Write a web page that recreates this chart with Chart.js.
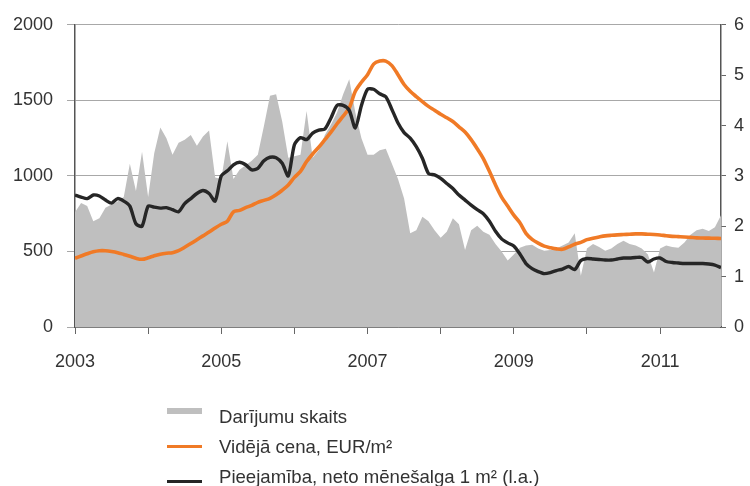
<!DOCTYPE html>
<html>
<head>
<meta charset="utf-8">
<script src="https://cdn.jsdelivr.net/npm/chart.js@4/dist/chart.umd.min.js"></script>
<style>
  html, body { margin: 0; padding: 0; background: #fff; }
  #wrap { position: relative; width: 750px; height: 486px; overflow: hidden; }
  #c { position: absolute; left: 0; top: 0; }
  .lg { position: absolute; left: 0; top: 0; width: 750px; height: 486px; font-family: "Liberation Sans", Arial, sans-serif; font-size: 18.6px; color: #333; }
  .sw { position: absolute; left: 167px; width: 35px; }
  .tx { position: absolute; left: 219px; line-height: 20px; white-space: nowrap; }
</style>
</head>
<body>
<div id="wrap">
  <canvas id="c" width="750" height="486"></canvas>
  <div class="lg" id="legend"></div>
</div>
<script>
// Months: Jan 2003 .. Nov 2011
const startYear = 2003;
const months = [];
for (let i = 0; i < 107; i++) {
  months.push((startYear + Math.floor(i / 12)) + '-' + String(i % 12 + 1).padStart(2, '0'));
}

const seriesNames = ['Darījumu skaits', 'Vidējā cena, EUR/m²', 'Pieejamība, neto mēnešalga 1 m² (l.a.)'];

// Number of transactions (left axis)
const transactions = [
  760, 820, 800, 700, 720, 790, 810, 830, 860, 1080, 900, 1160,
  860, 1150, 1320, 1250, 1140, 1220, 1240, 1270, 1200, 1260, 1300, 990,
  980, 1230, 980, 1040, 1070, 1100, 1140, 1330, 1530, 1540, 1360, 1120,
  1130, 1140, 1430, 1120, 1170, 1270, 1340, 1420, 1540, 1640, 1420, 1250,
  1140, 1140, 1170, 1180, 1080, 980, 850, 620, 640, 730, 700, 640,
  590, 630, 720, 680, 510, 640, 670, 630, 610, 550, 500, 440,
  480, 525, 540, 545, 520, 505, 510, 520, 540, 560, 620, 340,
  520, 550, 530, 505, 520, 550, 570, 550, 540, 520, 480, 360,
  520, 540, 530, 525, 560, 610, 640, 650, 635, 660, 740
];

// Average price, EUR/m2 (left axis)
const avgPrice = [
  455, 470, 485, 498, 505, 505, 500, 492, 480, 468, 455, 448,
  458, 472, 482, 488, 492, 505, 528, 552, 578, 603, 628, 655,
  680, 700, 762, 772, 790, 805, 825, 838, 852, 875, 905, 940,
  990, 1030, 1095, 1145, 1190, 1240, 1290, 1345, 1395, 1450, 1560, 1620,
  1670, 1740, 1760, 1760, 1730, 1670, 1605, 1560, 1525, 1492, 1460, 1435,
  1408, 1385, 1360, 1325, 1290, 1240, 1180, 1115, 1030, 940, 860, 800,
  740, 690, 620, 580, 555, 535, 525, 517, 514, 530, 548, 560,
  578, 588, 596, 603, 607, 610, 612, 614, 616, 616, 614, 612,
  609, 604, 600, 598, 596, 593, 590, 589, 588, 587, 586
];

// Affordability, net monthly wages per 1 m2 (right axis)
const affordability = [
  2.62, 2.58, 2.55, 2.62, 2.60, 2.52, 2.46, 2.55, 2.50, 2.40, 2.05, 2.00,
  2.40, 2.38, 2.36, 2.37, 2.33, 2.29, 2.45, 2.55, 2.65, 2.71, 2.65, 2.50,
  3.00, 3.10, 3.22, 3.27, 3.22, 3.12, 3.15, 3.30, 3.37, 3.36, 3.25, 3.00,
  3.62, 3.76, 3.72, 3.85, 3.91, 3.93, 4.15, 4.40, 4.40, 4.30, 3.95, 4.40,
  4.72, 4.72, 4.63, 4.57, 4.32, 4.05, 3.86, 3.75, 3.58, 3.35, 3.05, 3.02,
  2.95, 2.85, 2.75, 2.62, 2.52, 2.42, 2.33, 2.25, 2.10, 1.90, 1.75, 1.67,
  1.61, 1.45, 1.26, 1.16, 1.10, 1.06, 1.08, 1.12, 1.15, 1.20, 1.14, 1.32,
  1.36, 1.35, 1.34, 1.33, 1.33, 1.35, 1.37, 1.37, 1.38, 1.38, 1.29, 1.35,
  1.37, 1.30, 1.28, 1.27, 1.26, 1.26, 1.26, 1.26, 1.25, 1.23, 1.18
];

const leftTicks = [0, 500, 1000, 1500, 2000];
const rightTicks = [0, 1, 2, 3, 4, 5, 6];
const yearTickLabels = ['2003', '2005', '2007', '2009', '2011'];

const colors = ['#bfbfbf', '#f07a26', '#262626'];
const toPts = arr => arr.map((v, i) => ({ x: i, y: v }));

const FONT = { family: '"Liberation Sans", Arial, sans-serif', size: 18 };

const chart = new Chart(document.getElementById('c'), {
  type: 'line',
  data: {
    labels: months,
    datasets: [
      {
        label: seriesNames[2], data: toPts(affordability), yAxisID: 'y1',
        borderColor: colors[2], borderWidth: 3.4, pointRadius: 0, tension: 0.25,
        fill: false, order: 1
      },
      {
        label: seriesNames[1], data: toPts(avgPrice), yAxisID: 'y',
        borderColor: colors[1], borderWidth: 3.6, pointRadius: 0, tension: 0.3,
        fill: false, order: 2
      },
      {
        label: seriesNames[0], data: toPts(transactions), yAxisID: 'y',
        borderColor: colors[0], backgroundColor: colors[0], borderWidth: 0,
        pointRadius: 0, tension: 0, fill: 'origin', order: 3
      }
    ]
  },
  options: {
    responsive: false,
    animation: false,
    devicePixelRatio: 1,
    layout: { padding: { top: 21, right: 0, bottom: 0, left: 0 } },
    plugins: { legend: { display: false }, tooltip: { enabled: false } },
    scales: {
      x: {
        type: 'linear', min: 0, max: months.length - 1,
        afterBuildTicks: s => { s.ticks = []; for (let v = 0; v < months.length; v += 12) s.ticks.push({ value: v }); },
        afterFit: s => { s.height = 159; },
        grid: { drawOnChartArea: false, drawTicks: true, tickLength: 7, color: '#666', lineWidth: 1 },
        border: { color: '#555', width: 1.5 },
        ticks: {
          font: FONT, color: '#333', padding: 17, maxRotation: 0, autoSkip: false,
          callback: v => {
            const yr = String(startYear + Math.round(v / 12));
            return yearTickLabels.includes(yr) ? yr : '';
          }
        }
      },
      y: {
        position: 'left', min: 0, max: 2000,
        afterBuildTicks: s => { s.ticks = leftTicks.map(v => ({ value: v })); },
        afterFit: s => { s.width = 75; },
        grid: { color: '#a8a8a8', lineWidth: 1, tickLength: 8, drawTicks: true },
        border: { color: '#555', width: 1.5 },
        ticks: { font: FONT, color: '#333', padding: 14, callback: v => String(v) }
      },
      y1: {
        position: 'right', min: 0, max: 6,
        afterBuildTicks: s => { s.ticks = rightTicks.map(v => ({ value: v })); },
        afterFit: s => { s.width = 29; },
        grid: { drawOnChartArea: false, color: '#666', tickLength: 5 },
        border: { color: '#555', width: 1.5 },
        ticks: { font: FONT, color: '#333', padding: 8, callback: v => String(v) }
      }
    }
  }
});

// Legend (HTML, vertical list as in the original)
const legendRows = [
  { name: seriesNames[0], color: colors[0], thick: 6, textTop: 407, swTop: 408 },
  { name: seriesNames[1], color: colors[1], thick: 3, textTop: 437, swTop: 445 },
  { name: seriesNames[2], color: colors[2], thick: 3, textTop: 467, swTop: 480 }
];
const lg = document.getElementById('legend');
legendRows.forEach(r => {
  const sw = document.createElement('div');
  sw.className = 'sw';
  sw.style.top = r.swTop + 'px';
  sw.style.height = r.thick + 'px';
  sw.style.background = r.color;
  lg.appendChild(sw);
  const tx = document.createElement('div');
  tx.className = 'tx';
  tx.style.top = r.textTop + 'px';
  tx.textContent = r.name;
  lg.appendChild(tx);
});
</script>
</body>
</html>
